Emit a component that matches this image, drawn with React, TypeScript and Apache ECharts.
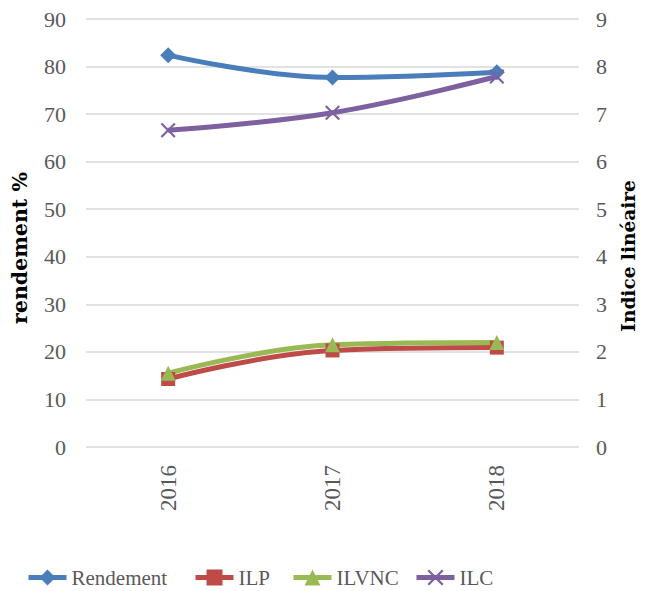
import React, { useEffect, useRef } from "react";
import * as echarts from "echarts";

const categories = ["2016", "2017", "2018"];
const rendement = [82.4, 77.7, 78.8];
const ilp = [1.43, 2.03, 2.09];
const ilvnc = [1.55, 2.15, 2.2];
const ilc = [6.66, 7.03, 7.79];
const leftTicks = { min: 0, max: 90, interval: 10 };
const rightTicks = { min: 0, max: 9, interval: 1 };

const FONT = "'Liberation Serif', serif";
const TITLE_FONT = "'DejaVu Serif', serif";
const XPATH = "path://M0,1 L1,0 L5,4 L9,0 L10,1 L6,5 L10,9 L9,10 L5,6 L1,10 L0,9 L4,5 Z";

export default function App() {
  const ref = useRef<HTMLDivElement>(null);
  useEffect(() => {
    const chart = echarts.init(ref.current!, null, { renderer: "svg" });
    const mk = (name: string, data: number[], color: string, symbol: string, size: number | number[], yIdx: number) => ({
      name,
      type: "line",
      data,
      yAxisIndex: yIdx,
      smooth: 0.4,
      symbol,
      symbolSize: size,
      lineStyle: { color, width: 5 },
      itemStyle: { color },
      z: 2,
    });
    const legendAt = (name: string, left: number) => ({
      data: [name],
      left,
      top: 567,
      padding: 0,
      itemWidth: 38,
      itemHeight: 20,
      itemGap: 6,
      lineStyle: { width: 5 },
      textStyle: { fontFamily: FONT, fontSize: 21, color: "#595959" },
    });
    chart.setOption({
      animation: false,
      backgroundColor: "#ffffff",
      grid: { left: 86, right: 68, top: 19, bottom: 144 },
      legend: [
        legendAt("Rendement", 26),
        legendAt("ILP", 193),
        legendAt("ILVNC", 291),
        legendAt("ILC", 414),
      ],
      xAxis: {
        type: "category",
        data: categories,
        boundaryGap: true,
        axisLine: { show: false },
        axisTick: { show: false },
        axisLabel: { rotate: 90, margin: 18, fontFamily: FONT, fontSize: 23, color: "#595959" },
      },
      yAxis: [
        {
          type: "value",
          ...leftTicks,
          axisLine: { show: false },
          axisTick: { show: false },
          splitLine: { lineStyle: { color: "#d9d9d9", width: 1.5 } },
          axisLabel: { margin: 20, fontFamily: FONT, fontSize: 22, color: "#595959" },
        },
        {
          type: "value",
          ...rightTicks,
          axisLine: { show: false },
          axisTick: { show: false },
          splitLine: { show: false },
          axisLabel: { margin: 17, fontFamily: FONT, fontSize: 22, color: "#595959" },
        },
      ],
      graphic: [
        {
          type: "text",
          x: 20,
          y: 248,
          rotation: Math.PI / 2,
          style: {
            text: "rendement %",
            fontFamily: TITLE_FONT,
            fontWeight: "bold",
            fontSize: 20.5,
            fill: "#000000",
            align: "center",
            verticalAlign: "middle",
          },
        },
        {
          type: "text",
          x: 628,
          y: 256,
          rotation: Math.PI / 2,
          style: {
            text: "Indice linéaire",
            fontFamily: TITLE_FONT,
            fontWeight: "bold",
            fontSize: 18.5,
            fill: "#000000",
            align: "center",
            verticalAlign: "middle",
          },
        },
      ],
      series: [
        mk("Rendement", rendement, "#4a7ebb", "diamond", 16, 0),
        mk("ILP", ilp, "#be4b48", "rect", 14, 1),
        mk("ILVNC", ilvnc, "#98b954", "triangle", 15, 1),
        mk("ILC", ilc, "#7d60a0", XPATH, 15, 1),
      ],
    });
    return () => chart.dispose();
  }, []);
  return <div ref={ref} style={{ width: 647, height: 591, position: "absolute", left: 0, top: 0 }} />;
}
